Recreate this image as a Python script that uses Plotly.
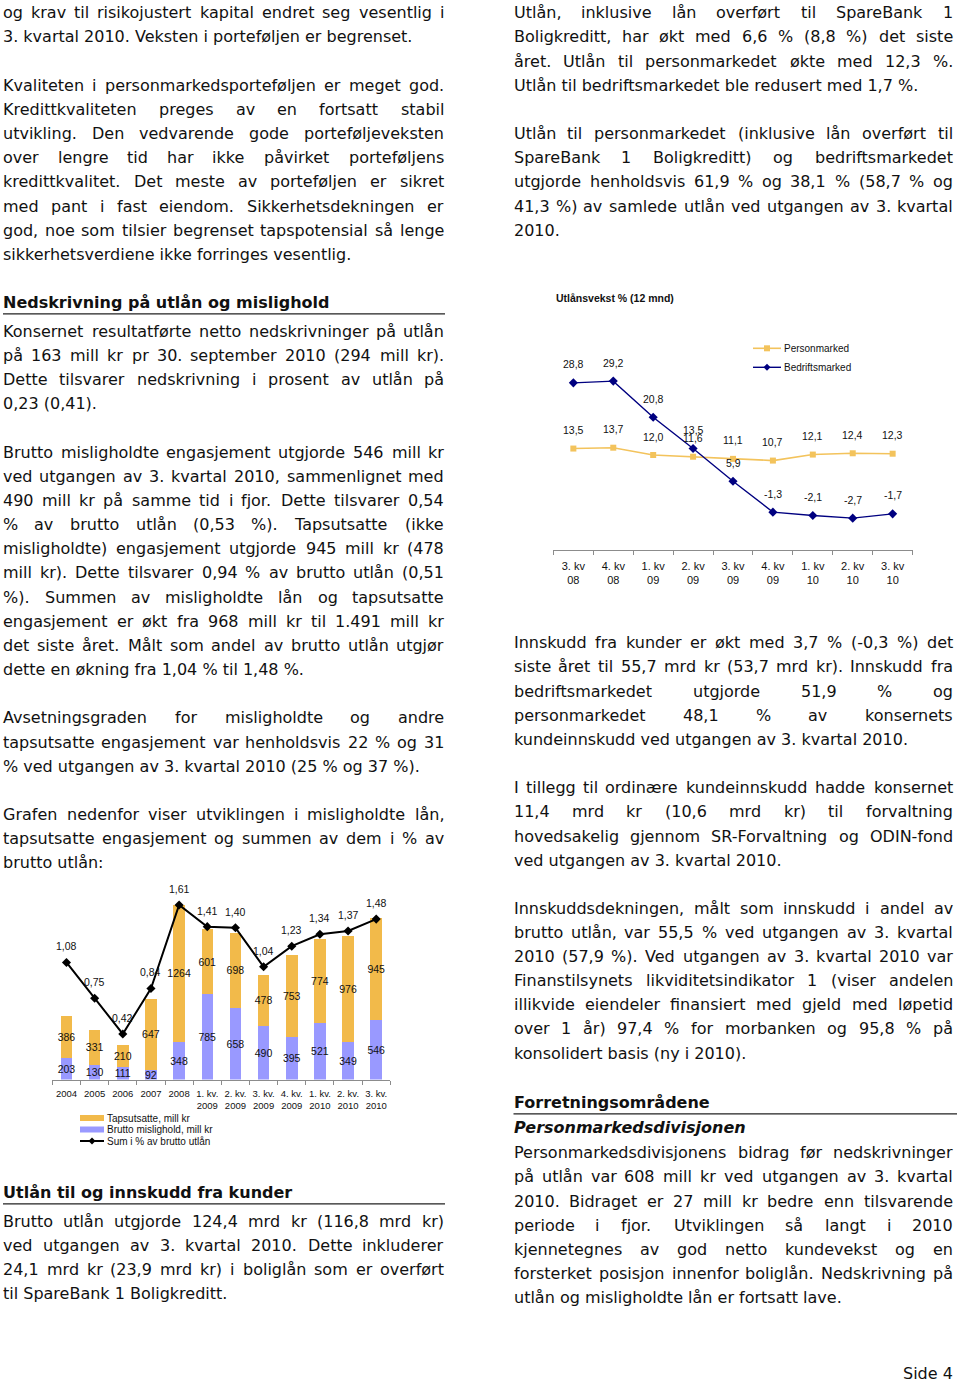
import glob
import os
import struct
import plotly.graph_objects as go

# ---------------- chart 1: mislighold ----------------
bar_categories = ["2004", "2005", "2006", "2007", "2008",
                  "1. kv.<br>2009", "2. kv.<br>2009", "3. kv.<br>2009", "4. kv.<br>2009",
                  "1. kv.<br>2010", "2. kv.<br>2010", "3. kv.<br>2010"]
brutto_mislighold = [203, 130, 111, 92, 348, 785, 658, 490, 395, 521, 349, 546]
tapsutsatte = [386, 331, 210, 647, 1264, 601, 698, 478, 753, 774, 976, 945]
sum_pct = [1.08, 0.75, 0.42, 0.84, 1.61, 1.41, 1.40, 1.04, 1.23, 1.34, 1.37, 1.48]
legend1_labels = ["Tapsutsatte, mill kr", "Brutto mislighold, mill kr", "Sum i % av brutto utlån"]

# ---------------- chart 2: utlånsvekst ----------------
vekst_title = "Utlånsvekst % (12 mnd)"
vekst_categories = ["3. kv<br>08", "4. kv<br>08", "1. kv<br>09", "2. kv<br>09", "3. kv<br>09",
                    "4. kv<br>09", "1. kv<br>10", "2. kv<br>10", "3. kv<br>10"]
personmarked = [13.5, 13.7, 12.0, 11.6, 11.1, 10.7, 12.1, 12.4, 12.3]
bedriftsmarked = [28.8, 29.2, 20.8, 13.5, 5.9, -1.3, -2.1, -2.7, -1.7]
legend2_labels = ["Personmarked", "Bedriftsmarked"]

# ---------------- page text ----------------
left_p1 = ["og krav til risikojustert kapital endret seg vesentlig i",
           "3. kvartal 2010. Veksten i porteføljen er begrenset."]
left_p2 = ["Kvaliteten i personmarkedsporteføljen er meget god.",
           "Kredittkvaliteten preges av en fortsatt stabil",
           "utvikling. Den vedvarende gode porteføljeveksten",
           "over lengre tid har ikke påvirket porteføljens",
           "kredittkvalitet. Det meste av porteføljen er sikret",
           "med pant i fast eiendom. Sikkerhetsdekningen er",
           "god, noe som tilsier begrenset tapspotensial så lenge",
           "sikkerhetsverdiene ikke forringes vesentlig."]
heading1 = "Nedskrivning på utlån og mislighold"
left_p3 = ["Konsernet resultatførte netto nedskrivninger på utlån",
           "på 163 mill kr pr 30. september 2010 (294 mill kr).",
           "Dette tilsvarer nedskrivning i prosent av utlån på",
           "0,23 (0,41)."]
left_p4 = ["Brutto misligholdte engasjement utgjorde 546 mill kr",
           "ved utgangen av 3. kvartal 2010, sammenlignet med",
           "490 mill kr på samme tid i fjor. Dette tilsvarer 0,54",
           "% av brutto utlån (0,53 %). Tapsutsatte (ikke",
           "misligholdte) engasjement utgjorde 945 mill kr (478",
           "mill kr). Dette tilsvarer 0,94 % av brutto utlån (0,51",
           "%). Summen av misligholdte lån og tapsutsatte",
           "engasjement er økt fra 968 mill kr til 1.491 mill kr",
           "det siste året. Målt som andel av brutto utlån utgjør",
           "dette en økning fra 1,04 % til 1,48 %."]
left_p5 = ["Avsetningsgraden for misligholdte og andre",
           "tapsutsatte engasjement var henholdsvis 22 % og 31",
           "% ved utgangen av 3. kvartal 2010 (25 % og 37 %)."]
left_p6 = ["Grafen nedenfor viser utviklingen i misligholdte lån,",
           "tapsutsatte engasjement og summen av dem i % av",
           "brutto utlån:"]
heading2 = "Utlån til og innskudd fra kunder"
left_p7 = ["Brutto utlån utgjorde 124,4 mrd kr (116,8 mrd kr)",
           "ved utgangen av 3. kvartal 2010. Dette inkluderer",
           "24,1 mrd kr (23,9 mrd kr) i boliglån som er overført",
           "til SpareBank 1 Boligkreditt."]

right_p1 = ["Utlån, inklusive lån overført til SpareBank 1",
            "Boligkreditt, har økt med 6,6 % (8,8 %) det siste",
            "året. Utlån til personmarkedet økte med 12,3 %.",
            "Utlån til bedriftsmarkedet ble redusert med 1,7 %."]
right_p2 = ["Utlån til personmarkedet (inklusive lån overført til",
            "SpareBank 1 Boligkreditt) og bedriftsmarkedet",
            "utgjorde henholdsvis 61,9 % og 38,1 % (58,7 % og",
            "41,3 %) av samlede utlån ved utgangen av 3. kvartal",
            "2010."]
right_p3 = ["Innskudd fra kunder er økt med 3,7 % (-0,3 %) det",
            "siste året til 55,7 mrd kr (53,7 mrd kr). Innskudd fra",
            "bedriftsmarkedet utgjorde 51,9 % og",
            "personmarkedet 48,1 % av konsernets",
            "kundeinnskudd ved utgangen av 3. kvartal 2010."]
right_p4 = ["I tillegg til ordinære kundeinnskudd hadde konsernet",
            "11,4 mrd kr (10,6 mrd kr) til forvaltning",
            "hovedsakelig gjennom SR-Forvaltning og ODIN-fond",
            "ved utgangen av 3. kvartal 2010."]
right_p5 = ["Innskuddsdekningen, målt som innskudd i andel av",
            "brutto utlån, var 55,5 % ved utgangen av 3. kvartal",
            "2010 (57,9 %). Ved utgangen av 3. kvartal 2010 var",
            "Finanstilsynets likviditetsindikator 1 (viser andelen",
            "illikvide eiendeler finansiert med gjeld med løpetid",
            "over 1 år) 97,4 % for morbanken og 95,8 % på",
            "konsolidert basis (ny i 2010)."]
heading3 = "Forretningsområdene"
subheading3 = "Personmarkedsdivisjonen"
right_p6 = ["Personmarkedsdivisjonens bidrag før nedskrivninger",
            "på utlån var 608 mill kr ved utgangen av 3. kvartal",
            "2010. Bidraget er 27 mill kr bedre enn tilsvarende",
            "periode i fjor. Utviklingen så langt i 2010",
            "kjennetegnes av god netto kundevekst og en",
            "forsterket posisjon innenfor boliglån. Nedskrivning på",
            "utlån og misligholdte lån er fortsatt lave."]
footer = "Side 4"

# ---------------- styles ----------------
W, H = 960, 1382
BODY_FONT = "DejaVu Sans"
BODY_SIZE = 16
LINE = 24.17
TEXT_COLOR = "#111111"
CHART_FONT = "Liberation Sans, Arial, sans-serif"
ORANGE = "#F2BA4A"
PURPLE = "#9999FF"
PM_COLOR = "#F3C35C"
BM_COLOR = "#000080"
AXIS_GRAY = "#8C8C8C"


def px(x):
    return x / W


def py(y):
    return 1 - y / H


# ---------- glyph advance widths (read from the installed font) ----------
_FALLBACK = {' ': 651, '!': 821, '%': 1946, '(': 799, ')': 799, ',': 651, '-': 739, '.': 651,
             ':': 690, 'A': 1401, 'B': 1405, 'C': 1430, 'D': 1577, 'E': 1294, 'F': 1178,
             'G': 1587, 'H': 1540, 'I': 604, 'J': 604, 'K': 1343, 'L': 1141, 'M': 1767,
             'N': 1532, 'O': 1612, 'P': 1235, 'R': 1423, 'S': 1300, 'T': 1251, 'U': 1499,
             'V': 1401, 'a': 1255, 'b': 1300, 'c': 1126, 'd': 1300, 'e': 1260, 'f': 721,
             'g': 1300, 'h': 1298, 'i': 569, 'j': 569, 'k': 1186, 'l': 569, 'm': 1995,
             'n': 1298, 'o': 1253, 'p': 1300, 'q': 1300, 'r': 842, 's': 1067, 't': 803,
             'u': 1298, 'v': 1212, 'w': 1675, 'x': 1212, 'y': 1212, 'z': 1075,
             'å': 1255, 'ø': 1253, 'æ': 2011}


def _load_widths():
    cands = glob.glob("/usr/share/fonts/**/DejaVuSans.ttf", recursive=True)
    cands += glob.glob("/usr/local/share/fonts/**/DejaVuSans.ttf", recursive=True)
    for p in cands:
        try:
            data = open(p, "rb").read()
            nt = struct.unpack(">H", data[4:6])[0]
            tables = {}
            for i in range(nt):
                tag, _cs, off, ln = struct.unpack(">4sIII", data[12 + 16 * i:28 + 16 * i])
                tables[tag.decode("latin1")] = off
            head = tables["head"]
            upem = struct.unpack(">H", data[head + 18:head + 20])[0]
            hhea = tables["hhea"]
            nhm = struct.unpack(">H", data[hhea + 34:hhea + 36])[0]
            hm = tables["hmtx"]
            adv = [struct.unpack(">H", data[hm + 4 * i:hm + 4 * i + 2])[0] for i in range(nhm)]
            cm = tables["cmap"]
            nsub = struct.unpack(">H", data[cm + 2:cm + 4])[0]
            sub = None
            for i in range(nsub):
                pid, eid, off = struct.unpack(">HHI", data[cm + 4 + 8 * i:cm + 12 + 8 * i])
                fmt = struct.unpack(">H", data[cm + off:cm + off + 2])[0]
                if fmt == 4 and pid in (0, 3):
                    sub = cm + off
                    break
            if sub is None:
                continue
            segx2 = struct.unpack(">H", data[sub + 6:sub + 8])[0]
            seg = segx2 // 2
            ends = struct.unpack(">%dH" % seg, data[sub + 14:sub + 14 + segx2])
            so = sub + 16 + segx2
            starts = struct.unpack(">%dH" % seg, data[so:so + segx2])
            do = so + segx2
            deltas = struct.unpack(">%dh" % seg, data[do:do + segx2])
            ro = do + segx2
            ros = struct.unpack(">%dH" % seg, data[ro:ro + segx2])

            def gid(c):
                for i in range(seg):
                    if starts[i] <= c <= ends[i]:
                        if ros[i] == 0:
                            return (c + deltas[i]) & 0xFFFF
                        addr = ro + 2 * i + ros[i] + 2 * (c - starts[i])
                        g = struct.unpack(">H", data[addr:addr + 2])[0]
                        return (g + deltas[i]) & 0xFFFF if g else 0
                return 0

            cache = {}

            def width(ch):
                if ch not in cache:
                    g = gid(ord(ch))
                    cache[ch] = adv[min(g, nhm - 1)] / upem
                return cache[ch]
            width(" ")
            return width
        except Exception:
            continue
    return lambda ch: _FALLBACK.get(ch, 1250) / 2048


char_em = _load_widths()


def text_width(s, size=BODY_SIZE):
    return sum(char_em(c) for c in s) * size


annotations = []
shapes = []
BASE_OFF = 5.5  # distance from baseline up to the text box middle


def text_ann(txt, x, baseline, anchor="left", size=BODY_SIZE):
    annotations.append(dict(text=txt, x=px(x), y=py(baseline - BASE_OFF),
                            xref="paper", yref="paper", xanchor=anchor, yanchor="middle",
                            showarrow=False, borderpad=0, borderwidth=0,
                            font=dict(family=BODY_FONT, size=size, color=TEXT_COLOR)))


def paragraph(lines, x0, x1, first_baseline):
    for i, line in enumerate(lines):
        b = first_baseline + i * LINE
        words = line.split(" ")
        if i == len(lines) - 1 or len(words) == 1:
            text_ann(line, x0, b)
            continue
        widths = [text_width(w) for w in words]
        gap = (x1 - x0 - sum(widths)) / (len(words) - 1)
        x = x0
        for j, w in enumerate(words):
            if j == len(words) - 1:
                text_ann(w, x1, b, anchor="right")
            else:
                text_ann(w, x, b)
            x += widths[j] + gap


def heading(txt, x0, x1, baseline, underline=True, italic=False):
    t = "<b><i>%s</i></b>" % txt if italic else "<b>%s</b>" % txt
    text_ann(t, x0, baseline)
    if underline:
        shapes.append(dict(type="line", xref="paper", yref="paper",
                           x0=px(x0), x1=px(x1), y0=py(baseline + 5.5), y1=py(baseline + 5.5),
                           line=dict(color="#222222", width=1.3)))


LX0, LX1 = 3.0, 444.0
RX0, RX1 = 513.5, 953.0

paragraph(left_p1, LX0, LX1, 18.3)
paragraph(left_p2, LX0, LX1, 18.3 + 3 * LINE)
heading(heading1, LX0, 445.0, 308.3)
paragraph(left_p3, LX0, LX1, 336.7)
paragraph(left_p4, LX0, LX1, 336.7 + 5 * LINE)
paragraph(left_p5, LX0, LX1, 336.7 + 16 * LINE)
paragraph(left_p6, LX0, LX1, 336.7 + 20 * LINE)
heading(heading2, LX0, 445.0, 1198.3)
paragraph(left_p7, LX0, LX1, 1226.7)

paragraph(right_p1, RX0, RX1, 18.3)
paragraph(right_p2, RX0, RX1, 18.3 + 5 * LINE)
paragraph(right_p3, RX0, RX1, 648.3)
paragraph(right_p4, RX0, RX1, 648.3 + 6 * LINE)
paragraph(right_p5, RX0, RX1, 913.6)
heading(heading3, RX0, 957.0, 1108.3)
heading(subheading3, RX0, RX1, 1133.3, underline=False, italic=True)
paragraph(right_p6, RX0, RX1, 1158.3)
text_ann(footer, RX1, 1378.5, anchor="right")

# ---------------- figure ----------------
fig = go.Figure()
lab_font = dict(family=CHART_FONT, size=10.5, color="#111111")

fig.add_trace(go.Bar(x=bar_categories, y=brutto_mislighold, name=legend1_labels[1],
                     marker=dict(color=PURPLE, line=dict(width=0)),
                     text=[str(v) for v in brutto_mislighold], textposition="inside",
                     insidetextanchor="middle", textangle=0, insidetextfont=lab_font,
                     xaxis="x", yaxis="y", width=0.41))
fig.add_trace(go.Bar(x=bar_categories, y=tapsutsatte, name=legend1_labels[0],
                     marker=dict(color=ORANGE, line=dict(width=0)),
                     text=[str(v) for v in tapsutsatte], textposition="inside",
                     insidetextanchor="middle", textangle=0, insidetextfont=lab_font,
                     xaxis="x", yaxis="y", width=0.41))
fig.add_trace(go.Scatter(x=bar_categories, y=sum_pct, name=legend1_labels[2],
                         mode="lines+markers", line=dict(color="black", width=2),
                         marker=dict(symbol="diamond", size=7, color="black"),
                         xaxis="x", yaxis="y2", cliponaxis=False))
# value labels: category index positions on the category axis
for i, v in enumerate(sum_pct):
    annotations.append(dict(x=i, y=v, xref="x", yref="y2", text=f"{v:.2f}".replace(".", ","),
                            showarrow=False, yshift=16, font=lab_font))

fig.add_trace(go.Scatter(x=vekst_categories, y=personmarked, name=legend2_labels[0],
                         mode="lines+markers", line=dict(color=PM_COLOR, width=1.6),
                         marker=dict(symbol="square", size=6, color=PM_COLOR),
                         xaxis="x2", yaxis="y3", cliponaxis=False))
fig.add_trace(go.Scatter(x=vekst_categories, y=bedriftsmarked, name=legend2_labels[1],
                         mode="lines+markers", line=dict(color=BM_COLOR, width=1.4),
                         marker=dict(symbol="diamond", size=7, color=BM_COLOR),
                         xaxis="x2", yaxis="y3", cliponaxis=False))
for series in (personmarked, bedriftsmarked):
    for i, v in enumerate(series):
        annotations.append(dict(x=i, y=v, xref="x2", yref="y3", text=f"{v:.1f}".replace(".", ","),
                                showarrow=False, yshift=18.5, font=lab_font))

# chart 2 title
annotations.append(dict(text="<b>%s</b>" % vekst_title, x=px(556), y=py(298), xref="paper",
                        yref="paper", xanchor="left", yanchor="middle", showarrow=False,
                        borderpad=0, borderwidth=0,
                        font=dict(family=CHART_FONT, size=10.5, color="#111111")))

# ---- legend 1 (drawn by hand, below chart 1) ----
leg_font = dict(family=CHART_FONT, size=10, color="#111111")
shapes.append(dict(type="rect", xref="paper", yref="paper", x0=px(80), x1=px(104),
                   y0=py(1121), y1=py(1115), fillcolor=ORANGE, line=dict(width=0)))
shapes.append(dict(type="rect", xref="paper", yref="paper", x0=px(80), x1=px(104),
                   y0=py(1132.5), y1=py(1126.5), fillcolor=PURPLE, line=dict(width=0)))
shapes.append(dict(type="line", xref="paper", yref="paper", x0=px(80), x1=px(104),
                   y0=py(1141), y1=py(1141), line=dict(color="black", width=2)))


def diamond_path(cx, cy, r):
    return "M %f,%f L %f,%f L %f,%f L %f,%f Z" % (px(cx), py(cy - r), px(cx + r), py(cy),
                                                    px(cx), py(cy + r), px(cx - r), py(cy))


shapes.append(dict(type="path", xref="paper", yref="paper", path=diamond_path(92, 1141, 3.5),
                   fillcolor="black", line=dict(width=0)))
for lab, yy in zip(legend1_labels, [1118, 1129.5, 1141]):
    annotations.append(dict(text=lab, x=px(106.5), y=py(yy), xref="paper", yref="paper",
                            xanchor="left", yanchor="middle", showarrow=False,
                            borderpad=0, borderwidth=0, font=leg_font))

# ---- legend 2 (drawn by hand, inside chart 2) ----
shapes.append(dict(type="line", xref="paper", yref="paper", x0=px(753), x1=px(781),
                   y0=py(348.3), y1=py(348.3), line=dict(color=PM_COLOR, width=1.6)))
shapes.append(dict(type="rect", xref="paper", yref="paper", x0=px(764), x1=px(770),
                   y0=py(351.3), y1=py(345.3), fillcolor=PM_COLOR, line=dict(width=0)))
shapes.append(dict(type="line", xref="paper", yref="paper", x0=px(753), x1=px(781),
                   y0=py(367.3), y1=py(367.3), line=dict(color=BM_COLOR, width=1.4)))
shapes.append(dict(type="path", xref="paper", yref="paper", path=diamond_path(767, 367.3, 3.5),
                   fillcolor=BM_COLOR, line=dict(width=0)))
for lab, yy in zip(legend2_labels, [348.3, 367.3]):
    annotations.append(dict(text=lab, x=px(783.5), y=py(yy), xref="paper", yref="paper",
                            xanchor="left", yanchor="middle", showarrow=False,
                            borderpad=0, borderwidth=0, font=leg_font))

axis_common = dict(type="category", showline=True, linecolor=AXIS_GRAY, linewidth=1,
                   ticks="outside", tickson="boundaries", ticklen=4, tickcolor=AXIS_GRAY,
                   showgrid=False, zeroline=False, fixedrange=True, tickangle=0)

fig.update_layout(
    width=W, height=H, autosize=False,
    margin=dict(l=0, r=0, t=0, b=0, pad=0),
    paper_bgcolor="white", plot_bgcolor="rgba(0,0,0,0)",
    showlegend=False, barmode="stack",
    uniformtext=dict(minsize=10.5, mode="show"),
    xaxis=dict(domain=[px(52.4), px(390.3)], anchor="y", range=[-0.5, len(bar_categories) - 0.5],
               tickfont=dict(family=CHART_FONT, size=9.5, color="#111111"),
               ticklabelstandoff=5, **axis_common),
    yaxis=dict(domain=[py(1079.5), py(884.4)], range=[0, 1800], visible=False, fixedrange=True),
    yaxis2=dict(domain=[py(1079.5), py(884.4)], range=[0, 1.8], visible=False,
                overlaying="y", anchor="x", fixedrange=True),
    xaxis2=dict(domain=[px(553.4), px(912.6)], anchor="y3",
                range=[-0.5, len(vekst_categories) - 0.5],
                tickfont=dict(family=CHART_FONT, size=11, color="#111111"),
                ticklabelstandoff=6, **axis_common),
    yaxis3=dict(domain=[py(549.5), py(356.2)], range=[-10, 35], visible=False,
                anchor="x2", fixedrange=True),
    annotations=annotations,
    shapes=shapes,
)

# the page body gets no default 8px margin, so the 960x1382 figure fills the window exactly
fig.write_html("out.html", config={"displayModeBar": False},
               post_script="document.body.style.margin='0';document.body.style.padding='0';")
